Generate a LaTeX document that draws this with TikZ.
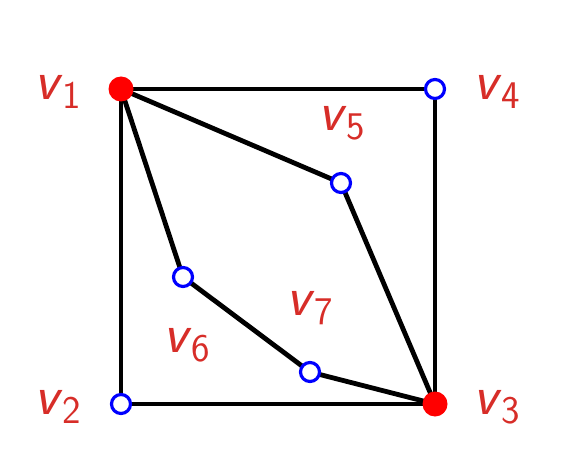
\documentclass[tikz,border=0pt]{standalone}
\definecolor{labred}{RGB}{215,45,40}
\newcommand{\vlab}[1]{\textsf{\slshape v}\textsubscript{\textsf{#1}}}
\begin{document}
\begin{tikzpicture}[x=0.5pt,y=-0.5pt,
  edge/.style={line width=2.4pt,black},
  redv/.style={circle,fill=red,inner sep=0pt,minimum size=12.5pt},
  bluev/.style={circle,draw=blue,line width=1.6pt,fill=white,inner sep=0pt,minimum size=9.5pt},
  lab/.style={text=labred,font=\fontsize{28}{32}\selectfont,inner sep=0pt}]
\useasboundingbox (0,0) rectangle (572,454);
\coordinate (p1) at (121,89);
\coordinate (p4) at (435,89);
\coordinate (p2) at (121,404);
\coordinate (p3) at (435,404);
\coordinate (p5) at (341,183);
\coordinate (p6) at (183,277);
\coordinate (p7) at (310,372);
\draw[edge] (p1) -- (p4) -- (p3) -- (p2) -- cycle;
\draw[edge] (p1) -- (p5) -- (p3);
\draw[edge] (p1) -- (p6) -- (p7) -- (p3);
\node[redv] (v1) at (p1) {};
\node[redv] (v3) at (p3) {};
\node[bluev] (v4) at (p4) {};
\node[bluev] (v2) at (p2) {};
\node[bluev] (v5) at (p5) {};
\node[bluev] (v6) at (p6) {};
\node[bluev] (v7) at (p7) {};
\node[lab] (l1) at (58,92) {\vlab{1}};
\node[lab] (l4) at (497,92) {\vlab{4}};
\node[lab] (l2) at (58,407) {\vlab{2}};
\node[lab] (l3) at (497,407) {\vlab{3}};
\node[lab] (l5) at (342,123) {\vlab{5}};
\node[lab] (l6) at (187,345) {\vlab{6}};
\node[lab] (l7) at (310,308) {\vlab{7}};
\end{tikzpicture}
\end{document}
